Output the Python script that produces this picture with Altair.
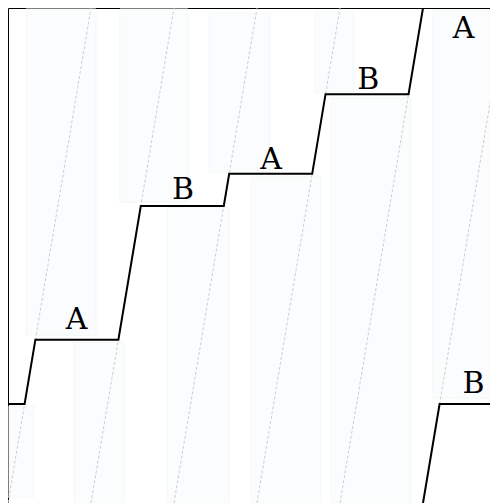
import altair as alt
import pandas as pd

# --- data ---
# faint background boxes
box_x1 = [0.217, 1.349, 2.422, 3.699, 5.120, 0.012, 0.795, 1.916, 2.928, 3.892]
box_x2 = [1.060, 2.169, 3.157, 4.169, 5.904, 0.313, 1.398, 2.663, 3.771, 4.855]
box_y1 = [0.339, 0.608, 0.667, 0.830, 0.212, 0.012, 0.000, 0.000, 0.000, 0.000]
box_y2 = [0.998, 0.998, 0.990, 0.992, 0.996, 0.196, 0.325, 0.598, 0.659, 0.818]

# dashed diagonal guides: from (start, 0) to (start + 1, 1)
guide_start = [0, 1, 2, 3, 4, 5]

# main stepped line
step_x = [0.0, 0.2, 0.33, 1.33, 1.6, 2.6, 2.665, 3.665, 3.826, 4.826, 5.0, 6.0]
step_y = [0.2, 0.2, 0.33, 0.33, 0.6, 0.6, 0.665, 0.665, 0.826, 0.826, 1.0, 1.0]
# wrapped continuation
wrap_x = [5.0, 5.2, 6.2]
wrap_y = [0.0, 0.2, 0.2]

# labels
labels = ["A", "B", "A", "B", "A", "B"]
label_x = [0.825, 2.11, 3.17, 4.34, 5.49, 5.61]
label_y = [0.3515, 0.614, 0.675, 0.836, 0.939, 0.222]

X_MAX = 482 / 83

# --- tables ---
boxes = pd.DataFrame({"x1": box_x1, "x2": box_x2, "y1": box_y1, "y2": box_y2})
guides = pd.DataFrame({
    "x1": guide_start,
    "x2": [s + 1 for s in guide_start],
    "y1": [0.0] * len(guide_start),
    "y2": [1.0] * len(guide_start),
})
lines = pd.DataFrame({
    "x": step_x + wrap_x,
    "y": step_y + wrap_y,
    "series": ["main"] * len(step_x) + ["wrap"] * len(wrap_x),
    "order": list(range(len(step_x))) + list(range(len(wrap_x))),
})
texts = pd.DataFrame({"x": label_x, "y": label_y, "label": labels})

xs = alt.Scale(domain=[0, X_MAX], nice=False, zero=False)
ys = alt.Scale(domain=[0, 1], nice=False, zero=False)
xax = alt.Axis(orient="top", labels=False, ticks=False, grid=False, title=None,
               domainColor="black", domainWidth=1)
yax = alt.Axis(orient="left", labels=False, ticks=False, grid=False, title=None,
               domainColor="black", domainWidth=1)

rects = alt.Chart(boxes).mark_rect(
    fill="#fbfcfe", stroke="#f1faf3", strokeWidth=1, clip=True
).encode(
    x=alt.X("x1:Q", scale=xs, axis=xax),
    x2="x2:Q",
    y=alt.Y("y1:Q", scale=ys, axis=yax),
    y2="y2:Q",
)

dashes = alt.Chart(guides).mark_rule(
    color="#cdcdcd", strokeWidth=1, strokeDash=[3, 2], clip=True
).encode(
    x=alt.X("x1:Q", scale=xs), x2="x2:Q",
    y=alt.Y("y1:Q", scale=ys), y2="y2:Q",
)

steps = alt.Chart(lines).mark_line(
    color="black", strokeWidth=2, clip=True
).encode(
    x=alt.X("x:Q", scale=xs),
    y=alt.Y("y:Q", scale=ys),
    detail="series:N",
    order="order:Q",
)

label_marks = alt.Chart(texts).mark_text(
    font="DejaVu Serif", fontSize=30, color="black",
    align="center", baseline="alphabetic", clip=True
).encode(
    x=alt.X("x:Q", scale=xs),
    y=alt.Y("y:Q", scale=ys),
    text="label:N",
)

chart = alt.layer(rects, dashes, steps, label_marks).properties(
    width=482, height=495, padding=0,
    autosize=alt.AutoSizeParams(type="none"),
).configure_view(stroke=None).configure(background="white")

chart.save("out.html", embed_options={"renderer": "svg", "actions": False})
